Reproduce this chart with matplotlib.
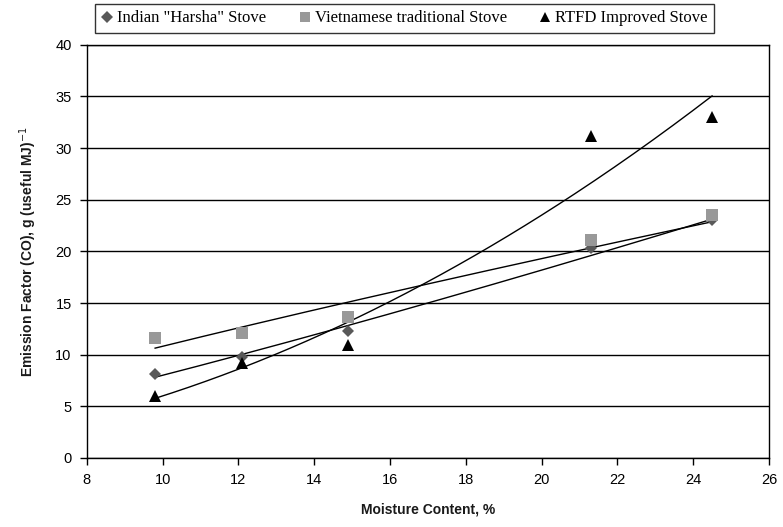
import numpy as np
import matplotlib
matplotlib.use("Agg")
import matplotlib.pyplot as plt

# ── Data ──────────────────────────────────────────────────────────────────────
moisture = [9.8, 12.1, 14.9, 21.3, 24.5]
harsha     = [8.1, 9.8, 12.3, 20.3, 23.0]
vietnamese = [11.6, 12.1, 13.6, 21.1, 23.5]
rtfd       = [6.0, 9.2, 10.9, 31.2, 33.0]

series_names = ['Indian "Harsha" Stove', 'Vietnamese traditional Stove', 'RTFD Improved Stove']
x_ticks = [8, 10, 12, 14, 16, 18, 20, 22, 24, 26]
y_ticks = [0, 5, 10, 15, 20, 25, 30, 35, 40]

fig = plt.figure(figsize=(7.83, 5.27), dpi=100)
ax = fig.add_axes([0.111, 0.131, 0.871, 0.784])

styles = [
    dict(marker='D', color='#595959', ms=6),
    dict(marker='s', color='#999999', ms=8),
    dict(marker='^', color='#000000', ms=8),
]

x = np.array(moisture)
xs = np.linspace(x.min(), x.max(), 200)
handles = []
for ys, st, name in zip([harsha, vietnamese, rtfd], styles, series_names):
    y = np.array(ys)
    # power trendline  y = a * x^b  (fit in log-log space)
    b, lna = np.polyfit(np.log(x), np.log(y), 1)
    ax.plot(xs, np.exp(lna) * xs ** b, color='black', lw=1.0, zorder=2)
    h, = ax.plot(x, y, linestyle='none', marker=st['marker'], color=st['color'],
                 markersize=st['ms'], markeredgewidth=0, zorder=3, label=name)
    handles.append(h)

ax.set_xlim(8, 26)
ax.set_ylim(0, 40)
ax.set_xticks(x_ticks)
ax.set_yticks(y_ticks)
ax.yaxis.grid(True, color='black', linewidth=1.0)
ax.set_axisbelow(True)
for s in ax.spines.values():
    s.set_color('black')
    s.set_linewidth(1.0)
ax.tick_params(direction='out', length=5, width=1, colors='black',
               labelsize=10.5, pad=6)
for lab in ax.get_xticklabels() + ax.get_yticklabels():
    lab.set_family('Liberation Sans')

ax.set_xlabel('Moisture Content, %', family='Liberation Sans', fontweight='bold',
              fontsize=10, color='#1a1a1a', labelpad=11)
ax.set_ylabel('Emission Factor (CO), g (useful MJ)$^{-1}$', family='Liberation Sans',
              fontweight='bold', fontsize=10, color='#1a1a1a', labelpad=12)

leg = fig.legend(handles=handles, loc='center', bbox_to_anchor=(0.517, 0.965),
                 ncol=3, frameon=True, fancybox=False, edgecolor='black',
                 prop={'family': 'Liberation Serif', 'size': 12},
                 handlelength=0.6, handletextpad=0.3, columnspacing=2.0,
                 borderpad=0.4, markerscale=0.95)
leg.get_frame().set_linewidth(1.0)

fig.savefig('out.png', dpi=100, facecolor='white')
